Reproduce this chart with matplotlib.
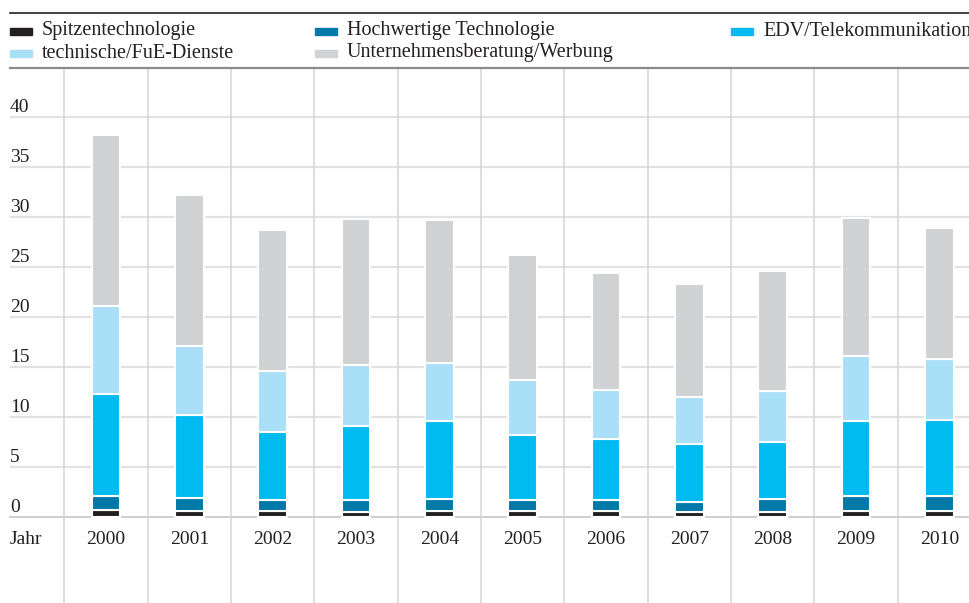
import numpy as np
import matplotlib
matplotlib.use("Agg")
import matplotlib.pyplot as plt
from matplotlib.patches import Rectangle

plt.rcParams['font.family'] = ['Liberation Serif', 'DejaVu Serif']

years = ["2000", "2001", "2002", "2003", "2004", "2005",
         "2006", "2007", "2008", "2009", "2010"]
series_names = ["Spitzentechnologie", "Hochwertige Technologie", "EDV/Telekommunikation",
                "technische/FuE-Dienste", "Unternehmensberatung/Werbung"]
spitzen = [0.65, 0.55, 0.6, 0.5, 0.55, 0.55, 0.55, 0.45, 0.5, 0.55, 0.55]
hochwertig = [1.45, 1.35, 1.1, 1.2, 1.25, 1.15, 1.15, 1.05, 1.3, 1.5, 1.5]
edv = [10.2, 8.3, 6.8, 7.4, 7.8, 6.5, 6.1, 5.8, 5.7, 7.55, 7.65]
fue = [8.8, 6.9, 6.1, 6.1, 5.8, 5.5, 4.9, 4.7, 5.1, 6.5, 6.1]
beratung = [17.1, 15.1, 14.1, 14.6, 14.3, 12.5, 11.7, 11.3, 12.0, 13.8, 13.1]
yticks = [0, 5, 10, 15, 20, 25, 30, 35, 40]

colors = ["#231f20", "#0079a8", "#00bbef", "#aadff8", "#d1d2d4"]

W, H = 970, 603
fig = plt.figure(figsize=(W / 100, H / 100), dpi=100)
ax = fig.add_axes([0, 0, 1, 1])
ax.set_axis_off()

# pixel mapping: 2000 bar centre at x=106, step 83.33 px; zero at y=516.7, 10 px per unit
step = 83.33
x0 = 106.0
ax.set_xlim(-x0 / step, (W - x0) / step)
ax.set_ylim(-(H - 516.7) / 10.0, 516.7 / 10.0)

def fx(px):
    return px / W

def fy(py):
    return 1 - py / H

x = np.arange(len(years))

# horizontal gridlines
for v in yticks:
    ax.plot([fx(10), 1], [v, v], transform=ax.get_yaxis_transform(), color="#e2e2e2",
            lw=1.6 if v else 1.4, zorder=1, solid_capstyle="butt")
    ax.text(-x0 / step + 10 / step, v + 0.45, str(v), fontsize=14, color="#231f20",
            ha="left", va="baseline")
# baseline a bit darker
ax.plot([fx(10), 1], [0, 0], transform=ax.get_yaxis_transform(), color="#cfcfcf",
        lw=1.4, zorder=1)

# vertical separators
for i in range(len(years)):
    ax.plot([i - 0.5, i - 0.5], [0, fy(68)], transform=ax.get_xaxis_transform(),
            color="#d4d4d4", lw=1.1, zorder=1)

# stacked bars
bottom = np.zeros(len(years))
for vals, col in zip([spitzen, hochwertig, edv, fue, beratung], colors):
    ax.bar(x, vals, width=0.345, bottom=bottom, color=col, edgecolor="white",
           linewidth=1.5, zorder=2)
    bottom += np.array(vals)

# x labels
for i, yr in enumerate(years):
    ax.text(i, -2.75, yr, fontsize=14, color="#231f20", ha="center", va="baseline")
ax.text(-x0 / step + 10 / step, -2.75, "Jahr", fontsize=14, color="#231f20",
        ha="left", va="baseline")

# legend header lines
fig.add_artist(plt.Line2D([fx(10), 1], [fy(13.3), fy(13.3)], color="#231f20", lw=1.2))
fig.add_artist(plt.Line2D([fx(10), 1], [fy(67.5), fy(67.5)], color="#8a8a8a", lw=1.6))

# legend entries
pos = [(10, 31), (315, 31), (731, 31), (10, 53), (315, 53)]
for name, col, (px, py) in zip(series_names, colors, pos):
    fig.add_artist(Rectangle((fx(px), fy(py + 3.5)), 22 / W, 7 / H, color=col,
                             transform=fig.transFigure))
    fig.text(fx(px + 32), fy(py + 4.5), name, fontsize=14.5, color="#231f20",
             ha="left", va="baseline")

fig.savefig("out.png", dpi=100)
